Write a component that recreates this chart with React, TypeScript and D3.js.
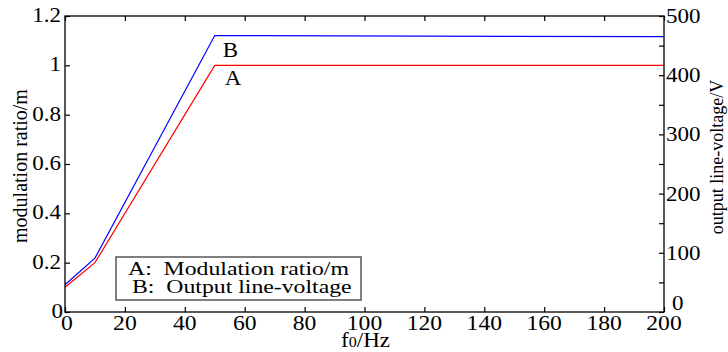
import { useRef, useEffect } from 'react';
import * as d3 from 'd3';

// Data
const freq = [0, 10, 50, 200];
const modulationRatio = [0.1, 0.2, 1.0, 1.0];
const lineVoltage = [46, 91, 467, 465];

const xTicks = [0, 20, 40, 60, 80, 100, 120, 140, 160, 180, 200];
const leftTicks = [0, 0.2, 0.4, 0.6, 0.8, 1, 1.2];
const rightTicks = [0, 100, 200, 300, 400, 500];
const rightTickMarks = [0, 50, 100, 150, 200, 250, 300, 350, 400, 450, 500];
const legendLabels = ['A:  Modulation ratio/m', 'B:  Output line-voltage'];
const curveLabels = ['A', 'B'];

const FONT = '"Liberation Serif", "Times New Roman", serif';

export default function App() {
    const chartRef = useRef<SVGSVGElement>(null);

    useEffect(() => {
        if (!chartRef.current) return;
        document.body.style.margin = '0';

        const svg = d3.select(chartRef.current);
        svg.selectAll('*').remove();

        const margin = { top: 16, right: 64, bottom: 40, left: 65 };
        const W = 728, H = 352;
        const width = W - margin.left - margin.right;
        const height = H - margin.top - margin.bottom;

        const x = d3.scaleLinear().domain([0, 200]).range([0, width]);
        const yL = d3.scaleLinear().domain([0, 1.2]).range([height, 0]);
        const yR = d3.scaleLinear().domain([0, 500]).range([height, 0]);

        const g = svg.append('g')
            .attr('transform', `translate(${margin.left},${margin.top})`);

        // stretched text helper (reference text is wider than the font)
        const label = (sel: any, tx: number, ty: number, sx: number, size: number, anchor: string, txt: string) =>
            sel.append('text')
                .attr('transform', `translate(${tx},${ty}) scale(${sx},1)`)
                .attr('text-anchor', anchor)
                .attr('font-family', FONT)
                .attr('font-size', size)
                .attr('fill', '#000')
                .attr('xml:space', 'preserve')
                .style('white-space', 'pre')
                .text(txt);

        // lines
        const lineA = d3.line<number>().x((_, i) => x(freq[i])).y(d => yL(d));
        const lineB = d3.line<number>().x((_, i) => x(freq[i])).y(d => yR(d));

        g.append('path').datum(modulationRatio)
            .attr('d', lineA).attr('fill', 'none')
            .attr('stroke', '#ff0000').attr('stroke-width', 1.2);
        g.append('path').datum(lineVoltage)
            .attr('d', lineB).attr('fill', 'none')
            .attr('stroke', '#0000ff').attr('stroke-width', 1.2);

        // inner ticks on all four sides
        const tickStyle = (sel: any) => {
            sel.select('.domain').remove();
            sel.selectAll('line').attr('stroke', '#000').attr('stroke-width', 1.2);
        };
        g.append('g').attr('transform', `translate(0,${height})`)
            .call(d3.axisBottom(x).tickValues(xTicks).tickSize(-5).tickFormat(() => ''))
            .call(tickStyle);
        g.append('g')
            .call(d3.axisTop(x).tickValues(xTicks).tickSize(-5).tickFormat(() => ''))
            .call(tickStyle);
        g.append('g')
            .call(d3.axisLeft(yL).tickValues(leftTicks).tickSize(-5).tickFormat(() => ''))
            .call(tickStyle);
        g.append('g').attr('transform', `translate(${width},0)`)
            .call(d3.axisRight(yR).tickValues(rightTickMarks).tickSize(-5).tickFormat(() => ''))
            .call(tickStyle);

        // frame
        g.append('rect')
            .attr('width', width).attr('height', height)
            .attr('fill', 'none').attr('stroke', '#000').attr('stroke-width', 1.3);

        // tick labels
        xTicks.forEach(t => label(g, x(t) + (t === 0 ? 2 : 0), height + 18, 1.18, 20, 'middle', String(t)));
        leftTicks.forEach(t => label(g, t === 0 ? -2 : -4, yL(t) + 6, 1.15, 20, 'end', String(t)));
        rightTicks.forEach(t =>
            label(g, width + (t === 0 ? 8 : 2), yR(t) + (t === 0 ? -2 : 7), 1.15, 20, 'start', String(t)));

        // axis titles
        svg.append('text')
            .attr('transform', `translate(27,${margin.top + height / 2 + 2}) rotate(-90)`)
            .attr('text-anchor', 'middle')
            .attr('font-family', FONT).attr('font-size', 20)
            .text('modulation ratio/m');
        svg.append('text')
            .attr('transform', `translate(723,${margin.top + 141}) rotate(-90)`)
            .attr('text-anchor', 'middle')
            .attr('font-family', FONT).attr('font-size', 18)
            .text('output line-voltage/V');

        const xt = svg.append('text')
            .attr('transform', `translate(${margin.left + width / 2 + 1},347) scale(1.15,1)`)
            .attr('text-anchor', 'middle')
            .attr('font-family', FONT).attr('font-size', 20);
        xt.append('tspan').text('f');
        xt.append('tspan').attr('font-size', 14).text('0');
        xt.append('tspan').text('/Hz');

        // curve labels
        label(g, x(50) + 8, yR(lineVoltage[2]) + 21, 1.15, 20, 'start', curveLabels[1]);
        label(g, x(50) + 10, yL(modulationRatio[2]) + 20, 1.15, 20, 'start', curveLabels[0]);

        // legend
        const leg = svg.append('g').attr('transform', 'translate(116,257)');
        leg.append('rect')
            .attr('width', 245).attr('height', 43)
            .attr('fill', '#fff').attr('stroke', '#555').attr('stroke-width', 1.5);
        label(leg, 12, 18, 1.25, 19, 'start', legendLabels[0]);
        label(leg, 16, 36, 1.25, 19, 'start', legendLabels[1]);
    }, []);

    return (
        <div style={{ position: 'absolute', left: 0, top: 0 }}>
            <svg ref={chartRef} width={728} height={352} style={{ display: 'block', background: '#fff' }} />
        </div>
    );
}
